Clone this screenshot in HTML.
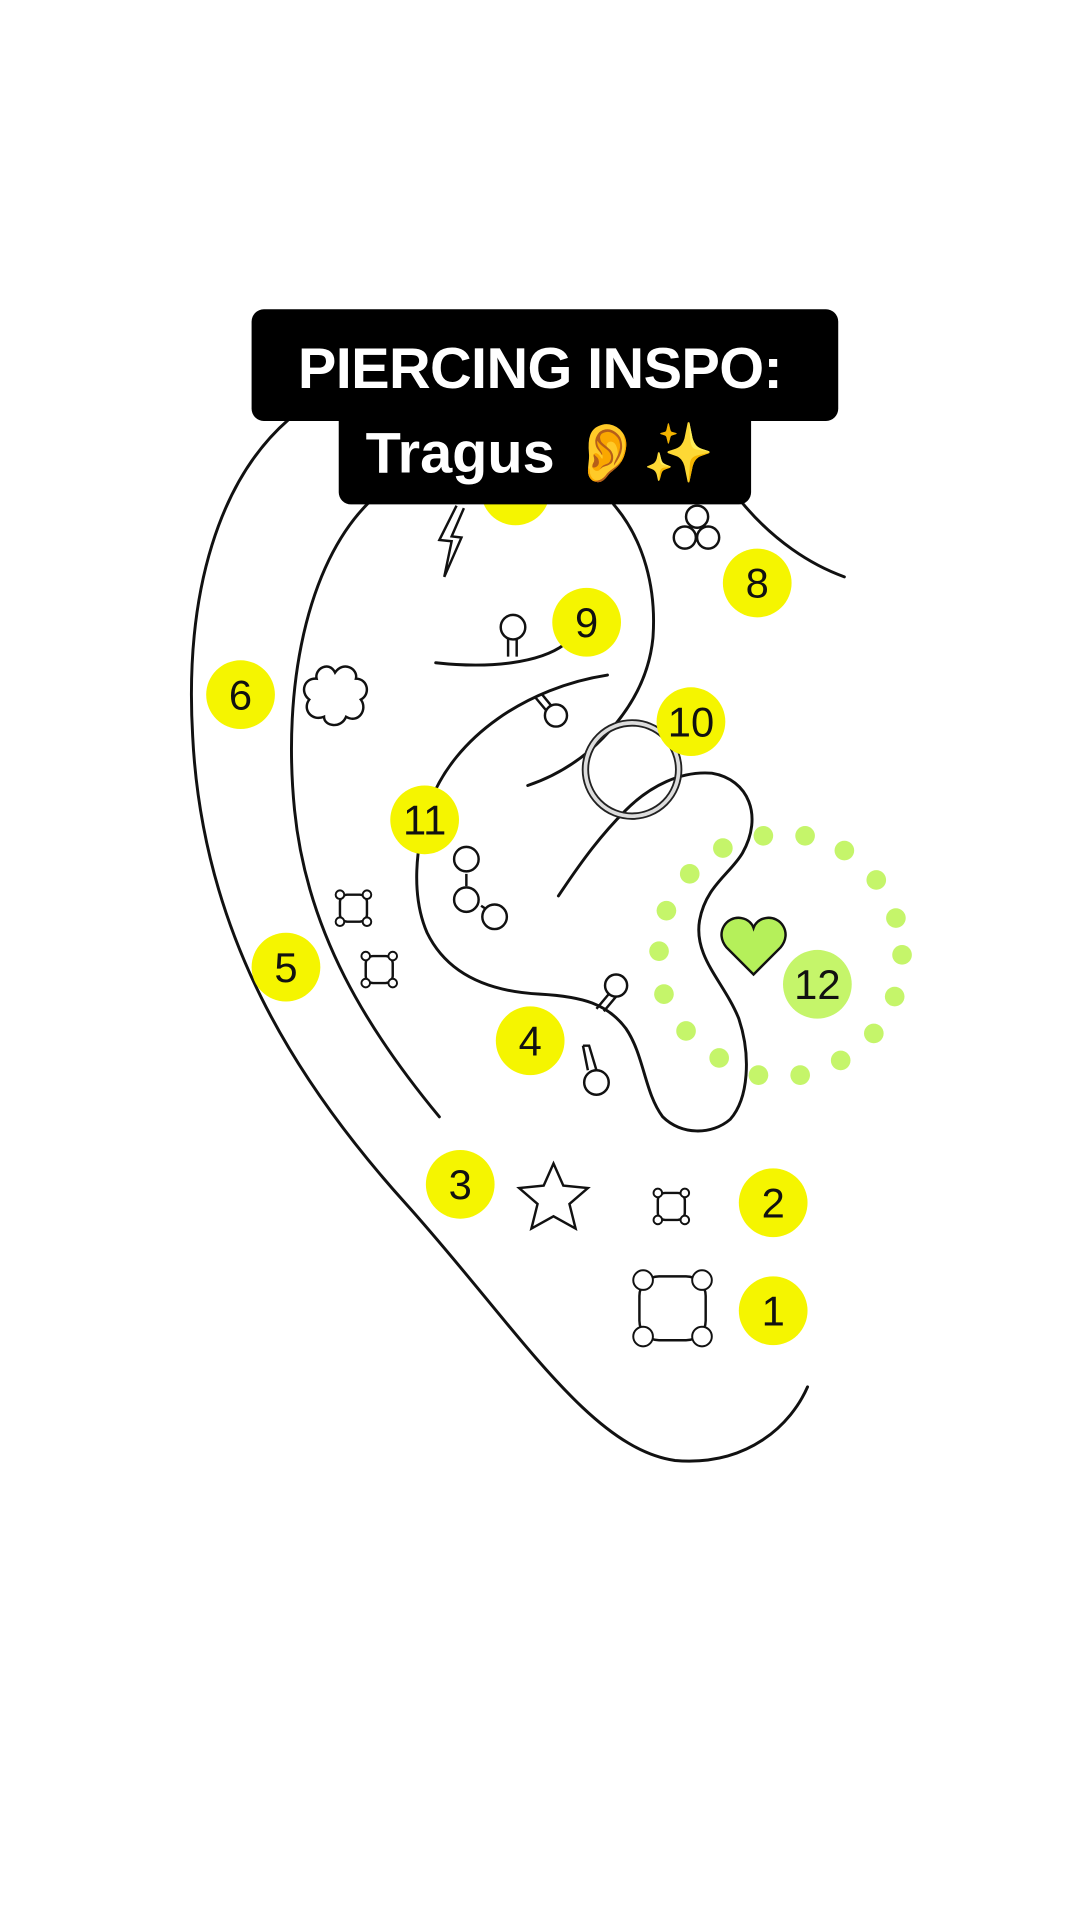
<!DOCTYPE html>
<html><head><meta charset="utf-8"><style>
html,body{margin:0;padding:0;background:#fff;}
svg{display:block;}
</style></head><body>
<svg width="1080" height="1920" viewBox="0 0 880 1564.4" preserveAspectRatio="none" xmlns="http://www.w3.org/2000/svg">
<rect width="880" height="1565" fill="#fff"/>
<g fill="none" stroke="#111" stroke-width="2.4" stroke-linecap="round">
<path d="M235,342 C180,390 150,480 157,600 C165,760 240,880 330,980 C420,1080 480,1180 550,1190 C610,1195 645,1160 658,1130"/>
<path d="M300,410 C250,460 230,560 240,660 C250,760 300,840 358,910"/>
<path d="M605,410 C630,440 660,460 688,470"/>
<path d="M500,411 C525,440 535,480 532,520 C528,560 505,590 480,612 C462,627 445,635 430,640"/>
<path d="M355,540 C400,545 440,540 460,525"/>
<path d="M455,730 C475,700 490,680 510,660 C530,640 555,628 580,630 C610,635 622,665 605,695 C595,712 575,722 570,750 C565,780 590,800 602,830 C612,860 610,895 595,912 C580,925 555,925 540,910 C525,890 525,860 510,838 C495,818 475,812 440,810 C400,808 365,795 348,760 C335,730 338,690 350,655 C370,600 430,560 495,550"/>
</g>
<!-- ring -->
<circle cx="515" cy="627" r="38" fill="none" stroke="#222" stroke-width="6"/>
<circle cx="515" cy="627" r="38" fill="none" stroke="#ddd" stroke-width="3"/>
<!-- green dots -->
<g fill="#c5f56a">
<circle cx="589" cy="691" r="8"/><circle cx="622" cy="681" r="8"/><circle cx="656" cy="681" r="8"/><circle cx="688" cy="693" r="8"/><circle cx="714" cy="717" r="8"/><circle cx="730" cy="748" r="8"/><circle cx="735" cy="778" r="8"/><circle cx="729" cy="812" r="8"/><circle cx="712" cy="842" r="8"/><circle cx="685" cy="864" r="8"/><circle cx="652" cy="876" r="8"/><circle cx="618" cy="876" r="8"/><circle cx="586" cy="862" r="8"/><circle cx="559" cy="840" r="8"/><circle cx="541" cy="810" r="8"/><circle cx="537" cy="775" r="8"/><circle cx="543" cy="742" r="8"/><circle cx="562" cy="712" r="8"/>
</g>
<!-- badges -->
<g fill="#f5f500">
<circle cx="420" cy="400" r="28"/><circle cx="617" cy="475" r="28"/><circle cx="478" cy="507" r="28"/><circle cx="196" cy="566" r="28"/><circle cx="563" cy="588" r="28"/><circle cx="346" cy="668" r="28"/><circle cx="233" cy="788" r="28"/><circle cx="432" cy="848" r="28"/><circle cx="375" cy="965" r="28"/><circle cx="630" cy="980" r="28"/><circle cx="630" cy="1068" r="28"/>
</g>
<circle cx="666" cy="802" r="28" fill="#c5f56a"/>
<g font-family="Liberation Sans, sans-serif" font-size="34" fill="#111" text-anchor="middle">
<text x="617" y="487">8</text><text x="478" y="519">9</text><text x="196" y="578">6</text><text x="563" y="600">10</text><text x="346" y="680">11</text><text x="233" y="800">5</text><text x="432" y="860">4</text><text x="375" y="977">3</text><text x="630" y="992">2</text><text x="630" y="1080">1</text><text x="666" y="814">12</text>
</g>
<!-- jewelry -->
<g fill="#fff" stroke="#111" stroke-width="2">
<path d="M372,412 L358,440 L368,441 L362,470 L376,438 L368,437 L378,414"/>
<circle cx="568" cy="421" r="9"/><circle cx="558" cy="438" r="9"/><circle cx="577" cy="438" r="9"/>
<path d="M414,520 L414,535 M421,520 L421,535"/><circle cx="418" cy="511" r="10"/>
<path d="M436,568 L446,580 M441,565 L450,576"/><circle cx="453" cy="583" r="9"/>
<path d="M273,548 C280,538 292,545 290,553 C300,553 302,566 294,570 C300,578 292,590 282,584 C278,594 264,592 264,584 C254,588 246,578 252,570 C244,564 248,552 258,553 C256,545 268,538 273,548 Z"/>
<path d="M380,712 L380,722 M392,738 L398,742" />
<circle cx="380" cy="700" r="10"/><circle cx="380" cy="733" r="10"/><circle cx="403" cy="747" r="10"/>
<rect x="277" y="729" width="22" height="22" rx="6"/><rect x="298" y="779" width="22" height="22" rx="6"/>
<rect x="536" y="972" width="22" height="22" rx="6"/>
<path d="M496,810 L486,822 M502,812 L492,824"/><circle cx="502" cy="803" r="9"/>
<path d="M475,852 L480,852 L486,872 M475,852 L479,872"/><circle cx="486" cy="882" r="10"/>
<path d="M451,948 L459,966 L479,968 L464,981 L469,1001 L451,991 L433,1001 L438,981 L423,968 L443,966 Z"/>
<rect x="521" y="1040" width="54" height="52" rx="16"/>
<path d="M614,794 L592,772 C582,760 592,746 604,748 C610,749 613,753 614,756 C615,753 618,749 624,748 C636,746 646,760 636,772 Z" fill="#b5f05a"/>
</g>
<g fill="#fff" stroke="#111" stroke-width="1.6">
<circle cx="277" cy="729" r="3.5"/><circle cx="299" cy="729" r="3.5"/><circle cx="277" cy="751" r="3.5"/><circle cx="299" cy="751" r="3.5"/>
<circle cx="298" cy="779" r="3.5"/><circle cx="320" cy="779" r="3.5"/><circle cx="298" cy="801" r="3.5"/><circle cx="320" cy="801" r="3.5"/>
<circle cx="536" cy="972" r="3.5"/><circle cx="558" cy="972" r="3.5"/><circle cx="536" cy="994" r="3.5"/><circle cx="558" cy="994" r="3.5"/>
<circle cx="524" cy="1043" r="8"/><circle cx="572" cy="1043" r="8"/><circle cx="524" cy="1089" r="8"/><circle cx="572" cy="1089" r="8"/>
</g>
<!-- title -->
<g fill="#000">
<rect x="205" y="252" width="478" height="91" rx="10"/>
<rect x="276" y="320" width="336" height="91" rx="10"/>
</g>
<g font-family="Liberation Sans, sans-serif" fill="#fff" text-anchor="middle">
<text x="440" y="316" font-size="47" font-weight="bold" letter-spacing="-0.5">PIERCING INSPO:</text>
<text x="440" y="385" font-size="47" font-weight="bold"><tspan>Tragus </tspan><tspan fill="#f2c14e">👂✨</tspan></text>
</g>
</svg>
</body></html>
